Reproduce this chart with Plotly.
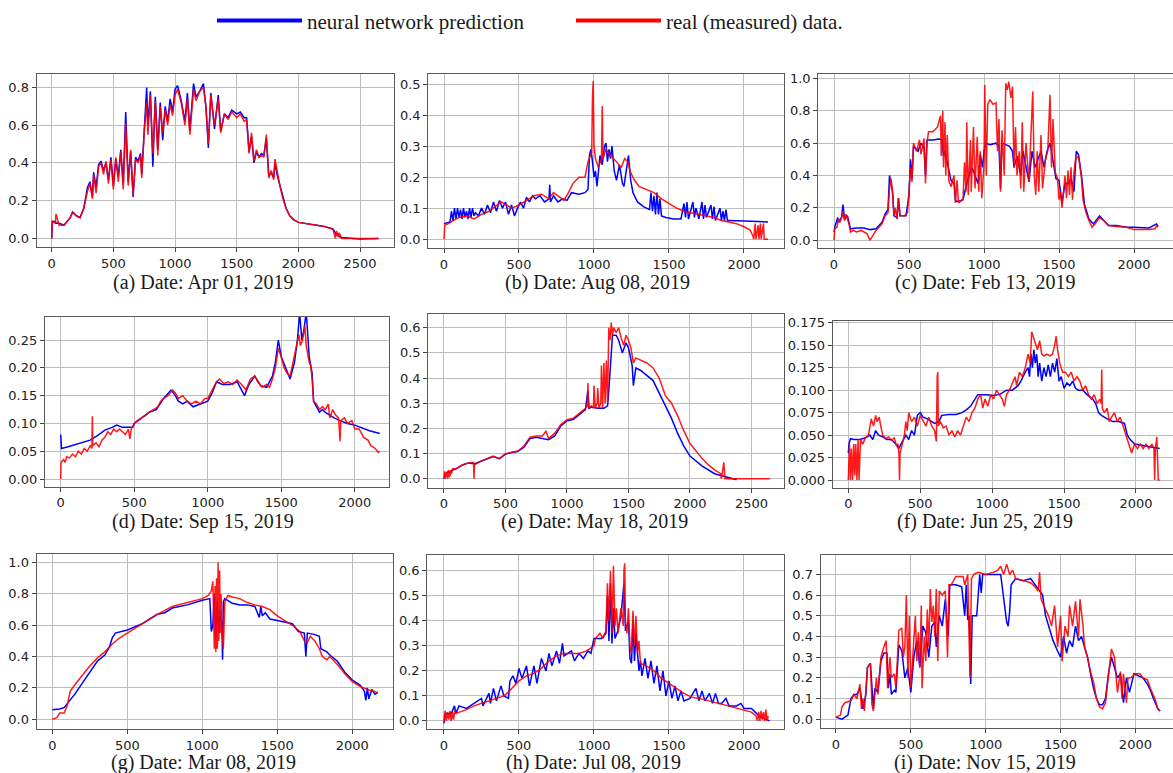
import plotly.graph_objects as go

# ---------------- DATA (x = sample index, y = normalised power) ----------------
a_x = [0, 5, 30, 35, 60, 100, 150, 170, 200, 230,
       260, 290, 310, 330, 340, 360, 380, 400, 420, 440,
       460, 480, 500, 520, 540, 560, 580, 600, 620, 640,
       660, 680, 700, 720, 730, 750, 770, 780, 800, 820,
       840, 860, 880, 900, 920, 940, 960, 980, 1000, 1020,
       1050, 1080, 1100, 1120, 1150, 1170, 1200, 1230, 1250, 1270,
       1290, 1320, 1350, 1370, 1400, 1430, 1460, 1500, 1530, 1560,
       1580, 1600, 1620, 1640, 1660, 1680, 1700, 1720, 1740, 1760,
       1780, 1800, 1810, 1830, 1850, 1870, 1900, 1930, 1960, 2000,
       2100, 2200, 2280, 2300, 2310, 2320, 2330, 2350, 2500, 2650]
a_real = [0.00, 0.09, 0.08, 0.13, 0.07, 0.07, 0.11, 0.14, 0.12, 0.11,
          0.16, 0.25, 0.29, 0.21, 0.34, 0.24, 0.38, 0.40, 0.34, 0.41,
          0.29, 0.42, 0.26, 0.43, 0.30, 0.46, 0.26, 0.61, 0.28, 0.47,
          0.23, 0.42, 0.40, 0.44, 0.32, 0.56, 0.72, 0.55, 0.76, 0.45,
          0.73, 0.44, 0.70, 0.56, 0.68, 0.60, 0.71, 0.65, 0.76, 0.79,
          0.72, 0.60, 0.74, 0.55, 0.79, 0.73, 0.78, 0.80, 0.70, 0.50,
          0.76, 0.60, 0.74, 0.56, 0.66, 0.63, 0.67, 0.64, 0.66, 0.62,
          0.63, 0.45, 0.56, 0.41, 0.47, 0.43, 0.44, 0.43, 0.55, 0.32,
          0.36, 0.31, 0.42, 0.34, 0.28, 0.22, 0.16, 0.12, 0.10, 0.085,
          0.075, 0.065, 0.05, 0.00, 0.04, 0.01, 0.03, 0.00, 0.00, 0.00]
a_pred = [0.00, 0.09, 0.09, 0.08, 0.08, 0.07, 0.11, 0.14, 0.12, 0.11,
          0.16, 0.27, 0.30, 0.22, 0.35, 0.27, 0.39, 0.41, 0.36, 0.40,
          0.31, 0.43, 0.28, 0.42, 0.33, 0.47, 0.29, 0.67, 0.30, 0.46,
          0.22, 0.43, 0.41, 0.45, 0.34, 0.60, 0.80, 0.60, 0.78, 0.38,
          0.75, 0.47, 0.72, 0.52, 0.70, 0.62, 0.74, 0.67, 0.79, 0.81,
          0.73, 0.62, 0.77, 0.57, 0.82, 0.75, 0.78, 0.82, 0.70, 0.48,
          0.77, 0.58, 0.76, 0.57, 0.66, 0.64, 0.68, 0.66, 0.67, 0.64,
          0.64, 0.46, 0.54, 0.40, 0.46, 0.43, 0.45, 0.44, 0.53, 0.33,
          0.35, 0.32, 0.40, 0.33, 0.28, 0.22, 0.16, 0.12, 0.10, 0.085,
          0.075, 0.065, 0.05, 0.03, 0.02, 0.02, 0.01, 0.005, -0.003, 0.00]

b_pred = [(0,0.05),(40,0.055),(50,0.09),(60,0.06),(70,0.10),(80,0.065),(90,0.10),(100,0.07),(110,0.095),(120,0.065),
          (130,0.10),(140,0.07),(150,0.09),(160,0.065),(170,0.10),(180,0.07),(190,0.10),(200,0.075),(210,0.085),(230,0.075),
          (250,0.10),(270,0.08),(290,0.11),(310,0.085),(330,0.12),(350,0.09),(370,0.125),(390,0.10),(410,0.12),(430,0.08),
          (450,0.11),(470,0.075),(490,0.10),(510,0.12),(530,0.10),(550,0.135),(570,0.12),(590,0.14),(610,0.13),(640,0.14),
          (670,0.12),(700,0.13),(705,0.175),(710,0.12),(730,0.14),(760,0.12),(790,0.13),(820,0.125),(850,0.15),(900,0.145),
          (940,0.15),(960,0.16),(970,0.27),(980,0.29),(990,0.25),(1000,0.20),(1010,0.22),(1020,0.17),(1040,0.27),(1055,0.24),
          (1070,0.30),(1080,0.31),(1090,0.25),(1100,0.29),(1110,0.26),(1120,0.30),(1135,0.22),(1150,0.19),(1170,0.24),(1190,0.18),
          (1200,0.17),(1215,0.22),(1230,0.27),(1245,0.19),(1260,0.15),(1290,0.12),(1330,0.105),(1370,0.095),(1380,0.15),(1390,0.09),
          (1400,0.14),(1410,0.08),(1420,0.15),(1430,0.08),(1440,0.13),(1450,0.075),(1480,0.07),(1530,0.065),(1580,0.065),(1600,0.115),
          (1610,0.07),(1620,0.12),(1630,0.065),(1660,0.12),(1670,0.07),(1680,0.10),(1700,0.065),(1720,0.12),(1730,0.065),(1740,0.11),
          (1750,0.07),(1780,0.11),(1790,0.065),(1800,0.105),(1810,0.06),(1840,0.10),(1850,0.06),(1860,0.09),(1870,0.06),(1880,0.095),
          (1890,0.06),(1900,0.06),(1950,0.06),(2050,0.058),(2160,0.055)]
b_real = [(0,0.0),(5,0.045),(30,0.05),(60,0.06),(100,0.07),(150,0.075),(200,0.065),(250,0.08),(300,0.09),(350,0.11),
          (380,0.12),(420,0.11),(450,0.10),(500,0.11),(550,0.125),(600,0.14),(650,0.145),(700,0.13),(730,0.15),(760,0.14),
          (800,0.125),(830,0.15),(860,0.18),(900,0.20),(940,0.20),(960,0.25),(985,0.28),(990,0.46),(995,0.51),(1000,0.30),
          (1010,0.26),(1030,0.23),(1050,0.26),(1055,0.43),(1060,0.26),(1080,0.29),(1110,0.27),(1150,0.25),(1180,0.23),(1205,0.26),
          (1225,0.25),(1240,0.22),(1270,0.19),(1300,0.17),(1350,0.16),(1400,0.15),(1450,0.13),(1500,0.115),(1550,0.10),(1600,0.09),
          (1650,0.085),(1700,0.08),(1750,0.075),(1800,0.07),(1850,0.06),(1900,0.055),(1950,0.05),(2000,0.04),(2040,0.03),(2060,0.01),
          (2065,0.0),(2075,0.05),(2080,0.0),(2095,0.045),(2100,0.0),(2110,0.05),(2115,0.0),(2130,0.05),(2135,0.0),(2160,0.0)]

c_pred = [(0,0.05),(5,0.08),(25,0.14),(30,0.11),(50,0.14),(60,0.22),(70,0.13),(90,0.15),(110,0.07),(150,0.075),
          (200,0.075),(240,0.065),(280,0.07),(300,0.09),(320,0.11),(340,0.16),(360,0.19),(370,0.40),(380,0.36),(390,0.30),
          (400,0.15),(420,0.14),(430,0.26),(440,0.15),(480,0.15),(500,0.28),(510,0.50),(520,0.38),(530,0.58),(560,0.55),
          (580,0.60),(600,0.57),(610,0.40),(620,0.62),(660,0.62),(700,0.625),(720,0.62),(730,0.52),(740,0.55),(760,0.45),
          (780,0.37),(800,0.35),(810,0.24),(830,0.24),(860,0.25),(880,0.33),(900,0.40),(920,0.45),(940,0.40),(960,0.35),
          (975,0.53),(990,0.45),(1000,0.55),(1010,0.60),(1040,0.59),(1080,0.60),(1100,0.58),(1110,0.32),(1120,0.60),(1150,0.59),
          (1170,0.58),(1190,0.55),(1200,0.45),(1220,0.52),(1245,0.40),(1260,0.55),(1280,0.45),(1300,0.36),(1320,0.55),(1340,0.45),
          (1360,0.50),(1380,0.55),(1400,0.45),(1420,0.55),(1440,0.60),(1460,0.50),(1480,0.38),(1500,0.37),(1520,0.23),(1540,0.35),
          (1560,0.35),(1580,0.38),(1600,0.30),(1615,0.55),(1630,0.53),(1650,0.40),(1670,0.22),(1700,0.13),(1730,0.10),(1770,0.15),
          (1800,0.12),(1830,0.09),(1880,0.09),(1950,0.08),(2000,0.08),(2100,0.075),(2150,0.10),(2160,0.085)]
c_real = [(0,0.0),(5,0.07),(20,0.08),(30,0.13),(40,0.11),(55,0.15),(60,0.18),(70,0.12),(80,0.16),(100,0.10),
          (110,0.05),(130,0.06),(150,0.05),(180,0.06),(200,0.05),(220,0.04),(240,0.0),(260,0.03),(280,0.06),(300,0.08),
          (320,0.10),(340,0.15),(360,0.17),(370,0.32),(380,0.38),(390,0.30),(400,0.15),(410,0.20),(420,0.13),(430,0.26),
          (440,0.15),(470,0.15),(490,0.17),(500,0.30),(510,0.45),(520,0.36),(530,0.60),(550,0.55),(570,0.62),(580,0.53),
          (600,0.63),(610,0.35),(620,0.60),(630,0.67),(660,0.67),(690,0.70),(710,0.77),(715,0.52),(725,0.80),(730,0.45),
          (740,0.73),(745,0.40),(755,0.65),(765,0.37),(780,0.33),(800,0.40),(810,0.23),(820,0.37),(830,0.23),(860,0.25),
          (870,0.48),(880,0.30),(885,0.73),(895,0.28),(910,0.62),(915,0.30),(930,0.70),(940,0.32),(955,0.64),(965,0.30),
          (975,0.55),(985,0.26),(1000,0.46),(1005,0.96),(1015,0.40),(1025,0.84),(1040,0.87),(1060,0.84),(1080,0.85),(1090,0.55),
          (1100,0.75),(1110,0.30),(1120,0.68),(1135,0.40),(1145,0.97),(1155,0.93),(1165,0.98),(1180,0.88),(1190,0.95),(1200,0.45),
          (1210,0.70),(1220,0.40),(1235,0.55),(1245,0.32),(1255,0.73),(1265,0.30),(1280,0.60),(1300,0.36),(1310,0.64),(1325,0.92),
          (1335,0.40),(1345,0.28),(1355,0.55),(1365,0.30),(1380,0.65),(1390,0.32),(1410,0.50),(1425,0.55),(1440,0.90),(1450,0.45),
          (1460,0.75),(1475,0.42),(1490,0.38),(1500,0.25),(1510,0.30),(1520,0.20),(1540,0.40),(1550,0.26),(1560,0.43),(1570,0.28),
          (1580,0.45),(1590,0.25),(1600,0.42),(1610,0.50),(1630,0.52),(1650,0.38),(1660,0.25),(1680,0.17),(1700,0.12),(1720,0.08),
          (1740,0.10),(1770,0.14),(1800,0.12),(1830,0.09),(1880,0.085),(1950,0.08),(2000,0.065),(2100,0.065),(2140,0.07),(2150,0.09),
          (2160,0.08)]

d_pred = [(0,0.08),(5,0.055),(50,0.058),(100,0.062),(150,0.066),(200,0.07),(250,0.078),(300,0.088),(350,0.093),(380,0.097),
          (420,0.093),(460,0.093),(490,0.093),(500,0.10),(550,0.11),(600,0.12),(650,0.125),(700,0.145),(750,0.16),(780,0.15),
          (800,0.14),(830,0.135),(860,0.14),(900,0.13),(950,0.135),(1000,0.14),(1030,0.155),(1060,0.175),(1100,0.17),(1150,0.17),
          (1200,0.175),(1250,0.15),(1280,0.17),(1320,0.185),(1360,0.168),(1400,0.165),(1440,0.185),(1460,0.21),(1480,0.25),(1500,0.22),
          (1530,0.20),(1560,0.18),(1590,0.21),(1610,0.25),(1625,0.30),(1640,0.25),(1655,0.27),(1670,0.30),(1690,0.22),(1710,0.19),
          (1720,0.14),(1740,0.13),(1760,0.12),(1780,0.125),(1800,0.12),(1830,0.115),(1860,0.11),(1900,0.105),(1950,0.10),(2000,0.097),
          (2050,0.092),(2100,0.087),(2170,0.082)]
d_real = [(0,0.0),(2,0.03),(20,0.035),(30,0.03),(40,0.04),(60,0.038),(80,0.045),(100,0.04),(120,0.05),(140,0.045),
          (160,0.055),(180,0.05),(200,0.06),(212,0.055),(215,0.113),(218,0.06),(240,0.065),(260,0.058),(280,0.07),(300,0.075),
          (320,0.085),(340,0.08),(360,0.09),(380,0.085),(400,0.09),(420,0.085),(440,0.08),(460,0.09),(470,0.072),(480,0.09),
          (500,0.10),(520,0.105),(550,0.11),(580,0.115),(600,0.12),(630,0.125),(660,0.13),(680,0.14),(700,0.145),(730,0.15),
          (760,0.16),(780,0.155),(800,0.145),(830,0.15),(860,0.14),(890,0.135),(920,0.14),(950,0.135),(980,0.145),(1000,0.145),
          (1030,0.16),(1060,0.175),(1080,0.18),(1110,0.172),(1140,0.175),(1170,0.17),(1200,0.178),(1230,0.17),(1260,0.16),(1290,0.18),
          (1320,0.185),(1340,0.175),(1370,0.165),(1400,0.17),(1420,0.165),(1440,0.18),(1460,0.20),(1480,0.235),(1500,0.22),(1520,0.20),
          (1540,0.19),(1560,0.185),(1580,0.21),(1600,0.235),(1620,0.26),(1630,0.24),(1645,0.25),(1660,0.275),(1670,0.24),(1690,0.21),
          (1700,0.205),(1710,0.18),(1720,0.14),(1740,0.135),(1760,0.125),(1780,0.13),(1800,0.125),(1820,0.135),(1830,0.11),(1850,0.125),
          (1870,0.115),(1890,0.11),(1900,0.068),(1905,0.105),(1930,0.11),(1950,0.10),(1980,0.105),(2000,0.09),(2030,0.09),(2060,0.075),
          (2090,0.07),(2110,0.06),(2140,0.055),(2160,0.048),(2170,0.05)]

e_pred = [(0,0.0),(10,0.02),(50,0.03),(100,0.04),(150,0.055),(200,0.063),(250,0.06),(300,0.07),(350,0.08),(400,0.088),
          (450,0.08),(500,0.098),(550,0.104),(600,0.108),(650,0.125),(700,0.16),(750,0.165),(800,0.16),(850,0.155),(900,0.17),
          (950,0.21),(1000,0.23),(1050,0.235),(1100,0.255),(1150,0.275),(1170,0.35),(1180,0.28),(1200,0.285),(1250,0.28),(1300,0.28),
          (1330,0.29),(1340,0.35),(1355,0.48),(1370,0.57),(1400,0.57),(1420,0.55),(1450,0.50),(1480,0.54),(1500,0.52),(1530,0.45),
          (1540,0.37),(1560,0.44),(1600,0.43),(1650,0.41),(1700,0.39),(1750,0.34),(1800,0.29),(1850,0.24),(1900,0.18),(1950,0.13),
          (2000,0.09),(2100,0.05),(2200,0.02),(2300,0.005),(2380,-0.004)]
e_real = [(0,0.0),(5,0.03),(10,0.0),(15,0.025),(20,0.005),(25,0.03),(30,0.0),(35,0.035),(40,0.005),(45,0.03),
          (50,0.01),(55,0.035),(60,0.02),(70,0.04),(100,0.04),(150,0.055),(200,0.063),(240,0.065),(244,0.0),(248,0.055),
          (300,0.07),(350,0.08),(400,0.09),(450,0.08),(500,0.10),(550,0.105),(600,0.11),(650,0.13),(700,0.165),(750,0.17),
          (800,0.17),(830,0.19),(850,0.16),(900,0.18),(950,0.215),(1000,0.235),(1050,0.24),(1100,0.26),(1150,0.28),(1165,0.29),
          (1170,0.38),(1175,0.28),(1200,0.29),(1215,0.28),(1220,0.37),(1230,0.28),(1245,0.30),(1250,0.36),(1260,0.28),(1275,0.30),
          (1280,0.45),(1290,0.28),(1300,0.46),(1310,0.30),(1320,0.47),(1330,0.30),(1340,0.60),(1350,0.55),(1360,0.62),(1370,0.57),
          (1380,0.60),(1400,0.58),(1420,0.60),(1440,0.56),(1460,0.53),(1480,0.57),(1500,0.55),(1520,0.52),(1540,0.46),(1560,0.48),
          (1600,0.47),(1650,0.46),(1700,0.44),(1750,0.40),(1800,0.33),(1850,0.30),(1900,0.25),(1950,0.19),(2000,0.14),(2050,0.11),
          (2100,0.08),(2150,0.055),(2200,0.035),(2250,0.02),(2255,0.0),(2265,0.03),(2275,0.065),(2285,0.0),(2400,0.0),(2650,0.0)]

f_pred = [(0,0.03),(5,0.04),(15,0.046),(40,0.045),(80,0.045),(120,0.047),(150,0.05),(170,0.045),(190,0.055),(210,0.05),
          (240,0.048),(270,0.045),(300,0.045),(330,0.04),(350,0.035),(380,0.045),(400,0.05),(420,0.045),(440,0.055),(460,0.05),
          (480,0.072),(500,0.075),(520,0.07),(550,0.068),(580,0.065),(600,0.063),(630,0.065),(650,0.072),(700,0.073),(750,0.073),
          (790,0.075),(820,0.078),(850,0.082),(880,0.09),(900,0.095),(930,0.095),(960,0.095),(1000,0.094),(1050,0.095),(1100,0.10),
          (1140,0.10),(1180,0.105),(1200,0.11),(1230,0.12),(1250,0.125),(1260,0.115),(1270,0.14),(1280,0.125),(1290,0.145),(1300,0.13),
          (1310,0.14),(1320,0.115),(1330,0.13),(1345,0.11),(1360,0.125),(1375,0.115),(1390,0.128),(1405,0.115),(1420,0.13),(1435,0.12),
          (1450,0.135),(1465,0.11),(1480,0.115),(1500,0.102),(1520,0.108),(1540,0.105),(1560,0.11),(1580,0.102),(1600,0.10),(1630,0.10),
          (1660,0.095),(1700,0.09),(1720,0.085),(1740,0.075),(1760,0.072),(1800,0.068),(1840,0.065),(1880,0.065),(1920,0.063),(1940,0.05),
          (1960,0.045),(1990,0.04),(2050,0.038),(2100,0.037),(2165,0.035)]
f_real = [(0,0.0),(8,0.04),(15,0.0),(22,0.035),(30,0.0),(38,0.04),(45,0.005),(52,0.04),(60,0.0),(68,0.045),
          (75,0.0),(85,0.045),(100,0.04),(120,0.047),(140,0.05),(150,0.06),(160,0.068),(175,0.06),(190,0.072),(200,0.065),
          (215,0.07),(225,0.06),(240,0.05),(260,0.046),(280,0.048),(300,0.044),(320,0.047),(335,0.038),(345,0.04),(352,0.03),
          (356,0.0),(360,0.03),(375,0.04),(390,0.05),(400,0.065),(410,0.055),(420,0.075),(440,0.065),(460,0.07),(480,0.06),
          (500,0.072),(520,0.065),(540,0.06),(560,0.07),(580,0.06),(600,0.055),(612,0.043),(618,0.115),(622,0.12),(626,0.06),
          (640,0.065),(660,0.058),(680,0.06),(700,0.05),(720,0.055),(740,0.048),(760,0.055),(780,0.05),(800,0.06),(820,0.07),
          (840,0.065),(860,0.075),(880,0.08),(900,0.09),(920,0.095),(935,0.08),(950,0.09),(970,0.082),(990,0.095),(1010,0.09),
          (1030,0.10),(1050,0.095),(1070,0.09),(1085,0.082),(1100,0.095),(1120,0.10),(1140,0.108),(1160,0.115),(1170,0.105),(1190,0.12),
          (1210,0.115),(1230,0.125),(1250,0.14),(1265,0.13),(1275,0.165),(1285,0.16),(1300,0.15),(1315,0.145),(1330,0.155),(1345,0.14),
          (1360,0.138),(1380,0.14),(1400,0.138),(1420,0.14),(1435,0.15),(1445,0.16),(1455,0.145),(1470,0.13),(1490,0.12),(1510,0.12),
          (1530,0.115),(1550,0.12),(1570,0.11),(1590,0.115),(1610,0.11),(1630,0.10),(1650,0.105),(1670,0.095),(1690,0.09),(1710,0.095),
          (1730,0.085),(1750,0.09),(1758,0.085),(1762,0.123),(1766,0.08),(1780,0.075),(1800,0.08),(1815,0.065),(1830,0.07),(1850,0.075),
          (1870,0.065),(1890,0.07),(1910,0.06),(1930,0.05),(1950,0.04),(1970,0.03),(1990,0.04),(2010,0.035),(2030,0.04),(2050,0.035),
          (2070,0.04),(2090,0.035),(2110,0.04),(2125,0.035),(2130,0.0),(2135,0.035),(2145,0.048),(2150,0.03),(2155,0.0),(2165,0.0)]

g_pred = [(0,0.06),(50,0.065),(80,0.075),(120,0.12),(150,0.16),(200,0.23),(250,0.30),(300,0.37),(350,0.41),(380,0.46),
          (400,0.52),(420,0.55),(500,0.57),(600,0.61),(700,0.67),(750,0.68),(800,0.71),(900,0.73),(1000,0.76),(1050,0.77),
          (1060,0.56),(1070,0.60),(1080,0.80),(1090,0.50),(1100,0.75),(1110,0.55),(1120,0.70),(1130,0.60),(1135,0.38),(1140,0.75),
          (1150,0.77),(1200,0.74),(1250,0.73),(1300,0.73),(1350,0.72),(1380,0.65),(1390,0.72),(1400,0.66),(1420,0.68),(1450,0.64),
          (1500,0.63),(1550,0.62),(1600,0.61),(1640,0.56),(1680,0.55),(1690,0.40),(1700,0.55),(1750,0.54),(1780,0.53),(1790,0.45),
          (1830,0.43),(1850,0.41),(1900,0.37),(1950,0.30),(2000,0.25),(2050,0.22),(2080,0.18),(2090,0.12),(2100,0.20),(2110,0.13),
          (2130,0.19),(2150,0.16),(2170,0.17)]
g_real = [(0,0.0),(30,0.01),(50,0.04),(80,0.04),(100,0.09),(120,0.18),(150,0.22),(200,0.28),(250,0.34),(300,0.39),
          (350,0.43),(400,0.48),(450,0.52),(500,0.55),(600,0.61),(700,0.67),(800,0.72),(900,0.745),(1000,0.77),(1040,0.79),
          (1060,0.82),(1070,0.88),(1075,0.60),(1080,0.45),(1085,0.85),(1090,0.43),(1095,0.90),(1100,0.45),(1105,1.0),(1110,0.50),
          (1115,0.95),(1120,0.55),(1125,0.80),(1130,0.60),(1140,0.45),(1150,0.75),(1170,0.79),(1200,0.78),(1250,0.77),(1300,0.745),
          (1350,0.73),(1400,0.72),(1450,0.70),(1500,0.66),(1550,0.63),(1600,0.60),(1650,0.56),(1680,0.50),(1700,0.49),(1720,0.53),
          (1750,0.50),(1780,0.45),(1800,0.40),(1830,0.38),(1850,0.40),(1880,0.37),(1900,0.35),(1950,0.29),(2000,0.24),(2050,0.21),
          (2100,0.19),(2170,0.17)]

h_pred = [(0,-0.01),(10,0.03),(50,0.03),(70,0.06),(80,0.03),(100,0.06),(150,0.05),(200,0.07),(250,0.09),(260,0.06),
          (300,0.11),(310,0.07),(330,0.13),(350,0.08),(380,0.14),(400,0.10),(430,0.09),(440,0.16),(460,0.18),(480,0.15),
          (500,0.21),(520,0.17),(550,0.22),(570,0.14),(600,0.22),(620,0.15),(650,0.25),(680,0.20),(700,0.27),(720,0.22),
          (750,0.28),(770,0.23),(790,0.31),(800,0.26),(850,0.28),(870,0.24),(900,0.27),(930,0.25),(960,0.28),(980,0.27),
          (1000,0.33),(1050,0.33),(1080,0.35),(1090,0.50),(1100,0.32),(1110,0.55),(1120,0.31),(1130,0.45),(1140,0.33),(1160,0.36),
          (1180,0.42),(1200,0.55),(1210,0.36),(1230,0.40),(1240,0.25),(1250,0.23),(1260,0.40),(1270,0.24),(1280,0.35),(1300,0.20),
          (1310,0.24),(1320,0.18),(1340,0.25),(1360,0.17),(1380,0.24),(1400,0.15),(1420,0.22),(1440,0.12),(1460,0.20),(1480,0.10),
          (1500,0.16),(1520,0.09),(1540,0.14),(1560,0.08),(1580,0.12),(1600,0.08),(1640,0.09),(1680,0.13),(1700,0.08),(1720,0.12),
          (1740,0.08),(1770,0.11),(1790,0.07),(1810,0.11),(1830,0.07),(1850,0.07),(1880,0.09),(1900,0.06),(1950,0.06),(1980,0.07),
          (2000,0.05),(2050,0.05),(2100,0.02),(2170,0.0)]
h_real = [(0,0.0),(8,0.04),(16,0.0),(24,0.035),(32,0.005),(40,0.04),(48,0.0),(56,0.035),(64,0.005),(72,0.04),
          (80,0.03),(150,0.045),(200,0.06),(300,0.08),(400,0.10),(420,0.11),(450,0.13),(500,0.16),(550,0.18),(600,0.19),
          (650,0.21),(700,0.24),(750,0.26),(800,0.27),(850,0.27),(900,0.27),(950,0.28),(1000,0.30),(1010,0.33),(1040,0.35),
          (1060,0.33),(1080,0.36),(1090,0.55),(1100,0.40),(1110,0.60),(1120,0.35),(1130,0.62),(1140,0.38),(1150,0.45),(1160,0.35),
          (1180,0.45),(1195,0.38),(1200,0.60),(1205,0.63),(1210,0.40),(1220,0.35),(1230,0.45),(1240,0.30),(1250,0.27),(1260,0.44),
          (1270,0.30),(1280,0.42),(1290,0.27),(1300,0.32),(1310,0.23),(1350,0.22),(1400,0.20),(1450,0.17),(1500,0.15),(1550,0.13),
          (1600,0.11),(1650,0.095),(1700,0.09),(1800,0.075),(1900,0.06),(2000,0.045),(2050,0.035),(2080,0.02),(2090,0.0),(2098,0.035),
          (2106,0.0),(2114,0.04),(2122,0.005),(2130,0.035),(2138,0.0),(2146,0.045),(2154,0.0),(2162,0.02)]

i_pred = [(0,0.01),(20,0.005),(40,0.0),(80,0.02),(100,0.10),(120,0.12),(140,0.12),(160,0.15),(180,0.05),(200,0.12),
          (210,0.25),(230,0.27),(250,0.05),(260,0.15),(280,0.13),(300,0.28),(320,0.32),(340,0.32),(350,0.15),(360,0.22),
          (370,0.12),(390,0.14),(400,0.13),(420,0.36),(440,0.33),(460,0.20),(480,0.25),(500,0.13),(520,0.30),(540,0.38),
          (560,0.25),(580,0.45),(600,0.42),(620,0.30),(640,0.45),(660,0.47),(670,0.35),(690,0.50),(710,0.45),(730,0.58),
          (750,0.40),(760,0.65),(800,0.65),(840,0.64),(860,0.50),(870,0.65),(880,0.48),(890,0.50),(900,0.17),(910,0.50),
          (940,0.50),(960,0.70),(970,0.61),(980,0.70),(1050,0.70),(1100,0.70),(1140,0.47),(1150,0.45),(1160,0.52),(1170,0.65),
          (1200,0.68),(1250,0.67),(1300,0.68),(1350,0.63),(1380,0.60),(1400,0.50),(1420,0.45),(1450,0.38),(1480,0.33),(1500,0.30),
          (1520,0.40),(1540,0.32),(1560,0.38),(1580,0.35),(1600,0.45),(1620,0.38),(1640,0.40),(1660,0.35),(1680,0.30),(1700,0.22),
          (1720,0.15),(1740,0.10),(1760,0.07),(1780,0.07),(1800,0.10),(1820,0.22),(1840,0.30),(1860,0.25),(1880,0.20),(1900,0.22),
          (1920,0.08),(1940,0.20),(1960,0.13),(1990,0.22),(2020,0.21),(2050,0.20),(2080,0.17),(2100,0.14),(2120,0.10),(2150,0.05),
          (2165,0.04)]
i_real = [(0,0.01),(30,0.02),(40,0.06),(60,0.08),(100,0.09),(120,0.12),(140,0.10),(160,0.17),(170,0.05),(180,0.10),
          (190,0.04),(210,0.25),(230,0.27),(240,0.07),(250,0.04),(270,0.20),(280,0.12),(300,0.30),(320,0.35),(335,0.38),
          (345,0.15),(360,0.30),(370,0.20),(390,0.22),(400,0.15),(420,0.43),(440,0.44),(450,0.30),(460,0.35),(470,0.60),
          (480,0.20),(490,0.50),(500,0.15),(520,0.40),(530,0.50),(540,0.28),(550,0.42),(560,0.25),(570,0.55),(575,0.15),
          (590,0.40),(600,0.28),(610,0.53),(620,0.35),(630,0.63),(640,0.47),(650,0.55),(660,0.40),(670,0.63),(680,0.28),
          (690,0.62),(710,0.60),(730,0.62),(745,0.30),(755,0.65),(770,0.65),(800,0.69),(850,0.69),(860,0.65),(880,0.70),
          (895,0.20),(905,0.68),(920,0.70),(950,0.71),(1000,0.70),(1050,0.71),(1080,0.72),(1100,0.74),(1120,0.70),(1140,0.75),
          (1160,0.70),(1180,0.72),(1200,0.68),(1250,0.67),(1300,0.66),(1330,0.64),(1350,0.62),(1360,0.71),(1370,0.58),(1400,0.53),
          (1420,0.50),(1440,0.45),(1460,0.55),(1480,0.35),(1500,0.50),(1510,0.28),(1530,0.45),(1550,0.40),(1560,0.55),(1580,0.45),
          (1600,0.57),(1620,0.40),(1630,0.58),(1650,0.45),(1660,0.35),(1680,0.30),(1700,0.23),(1720,0.18),(1740,0.10),(1760,0.06),
          (1780,0.05),(1800,0.08),(1820,0.20),(1840,0.34),(1860,0.30),(1870,0.22),(1880,0.13),(1900,0.23),(1910,0.10),(1920,0.22),
          (1940,0.08),(1950,0.20),(1970,0.20),(2000,0.22),(2030,0.22),(2050,0.20),(2080,0.19),(2100,0.15),(2130,0.10),(2150,0.05),
          (2165,0.04)]

captions = ["(a) Date: Apr 01, 2019", "(b) Date: Aug 08, 2019", "(c) Date: Feb 13, 2019",
            "(d) Date: Sep 15, 2019", "(e) Date: May 18, 2019", "(f) Date: Jun 25, 2019",
            "(g) Date: Mar 08, 2019", "(h) Date: Jul 08, 2019", "(i) Date: Nov 15, 2019"]
legend_names = ["neural network prediction", "real (measured) data."]

# ---------------- LAYOUT (pixel geometry) ----------------
W, H = 1173, 773
def unzip(pairs):
    return [p[0] for p in pairs], [p[1] for p in pairs]

series = [
    ((a_x, a_pred), (a_x, a_real)),
    (unzip(b_pred), unzip(b_real)),
    (unzip(c_pred), unzip(c_real)),
    (unzip(d_pred), unzip(d_real)),
    (unzip(e_pred), unzip(e_real)),
    (unzip(f_pred), unzip(f_real)),
    (unzip(g_pred), unzip(g_real)),
    (unzip(h_pred), unzip(h_real)),
    (unzip(i_pred), unzip(i_real)),
]
# (left, right, top, bottom) in px ; x range ; y range ; y dtick ; y format ; caption center
geo = [
    ((36.7, 394.0, 61.7, 238.3), (-121.6, 2775), (-0.047, 0.873), 0.2, ".1f", (203, 274)),
    ((428.3, 784.0, 61.7, 239.3), (-104.7, 2267), (-0.0295, 0.534), 0.1, ".1f", (597, 274)),
    ((818.3, 1173.0, 61.7, 239.3), (-104.7, 2260), (-0.0505, 1.030), 0.2, ".1f", (985, 274)),
    ((45.0, 389.3, 309.3, 481.7), (-107, 2235), (-0.0136, 0.2913), 0.05, ".2f", (203, 517)),
    ((428.3, 784.3, 306.0, 482.7), (-127.6, 2767), (-0.035, 0.655), 0.1, ".1f", (594, 517)),
    ((832.7, 1173.0, 313.3, 482.7), (-108.5, 2257.5), (-0.0084, 0.1769), 0.025, ".3f", (985, 517)),
    ((36.7, 393.3, 550.0, 728.3), (-104, 2273), (-0.0628, 1.0565), 0.2, ".1f", (203, 762)),
    ((427.3, 784.3, 551.0, 728.3), (-111, 2269), (-0.0326, 0.6645), 0.1, ".1f", (593, 762)),
    ((820.7, 1173.0, 551.7, 727.3), (-102, 2251), (-0.0428, 0.792), 0.1, ".1f", (985, 762)),
]

BLUE = "#0000ff"
RED = "rgba(255,0,0,0.9)"
fig = go.Figure()
layout = dict(width=W, height=H, margin=dict(l=0, r=0, t=0, b=0),
              paper_bgcolor="white", plot_bgcolor="white", annotations=[])
tickfont = dict(family="DejaVu Sans", size=13, color="#222222")
for k, ((px_, py_), (rx_, ry_)) in enumerate(series):
    n = k + 1
    xa = "x" if n == 1 else f"x{n}"
    ya = "y" if n == 1 else f"y{n}"
    fig.add_trace(go.Scatter(x=px_, y=py_, mode="lines", line=dict(color=BLUE, width=1.5),
                             xaxis=xa, yaxis=ya, showlegend=False, hoverinfo="skip"))
    fig.add_trace(go.Scatter(x=rx_, y=ry_, mode="lines", line=dict(color=RED, width=1.5),
                             xaxis=xa, yaxis=ya, showlegend=False, hoverinfo="skip"))
    (l, r, t, b), xr, yr, ydt, yfmt, (cx, cy) = geo[k]
    axcommon = dict(showgrid=True, gridcolor="#bdbdbd", gridwidth=1, zeroline=False,
                    showline=True, mirror=True, linecolor="#5a5a5a", linewidth=1.2,
                    ticks="outside", ticklen=4, tickcolor="#444444", tickfont=tickfont)
    layout["xaxis" if n == 1 else f"xaxis{n}"] = dict(
        domain=[l / W, r / W], range=list(xr), anchor=ya, tick0=0, dtick=500,
        tickformat="d", **axcommon)
    layout["yaxis" if n == 1 else f"yaxis{n}"] = dict(
        domain=[1 - b / H, 1 - t / H], range=list(yr), anchor=xa, tick0=0, dtick=ydt,
        tickformat=yfmt, **axcommon)
    layout["annotations"].append(dict(
        text=captions[k], x=cx / W, y=1 - cy / H, xref="paper", yref="paper",
        xanchor="center", yanchor="middle", showarrow=False,
        font=dict(family="Liberation Serif", size=20, color="#1a1a1a")))

# legend-only entries
fig.add_trace(go.Scatter(x=[None], y=[None], mode="lines", line=dict(color="#0000ff", width=4),
                         name=legend_names[0], showlegend=True))
fig.add_trace(go.Scatter(x=[None], y=[None], mode="lines", line=dict(color="#ff0000", width=4),
                         name=legend_names[1], showlegend=True))
layout["legend"] = dict(orientation="h", x=212 / W, xanchor="left", y=1 - 8 / H, yanchor="middle",
                        font=dict(family="Liberation Serif", size=21, color="#1a1a1a"),
                        bgcolor="rgba(0,0,0,0)", itemwidth=85, entrywidth=259, entrywidthmode="pixels")
fig.update_layout(**layout)
fig.write_html("out.html")
